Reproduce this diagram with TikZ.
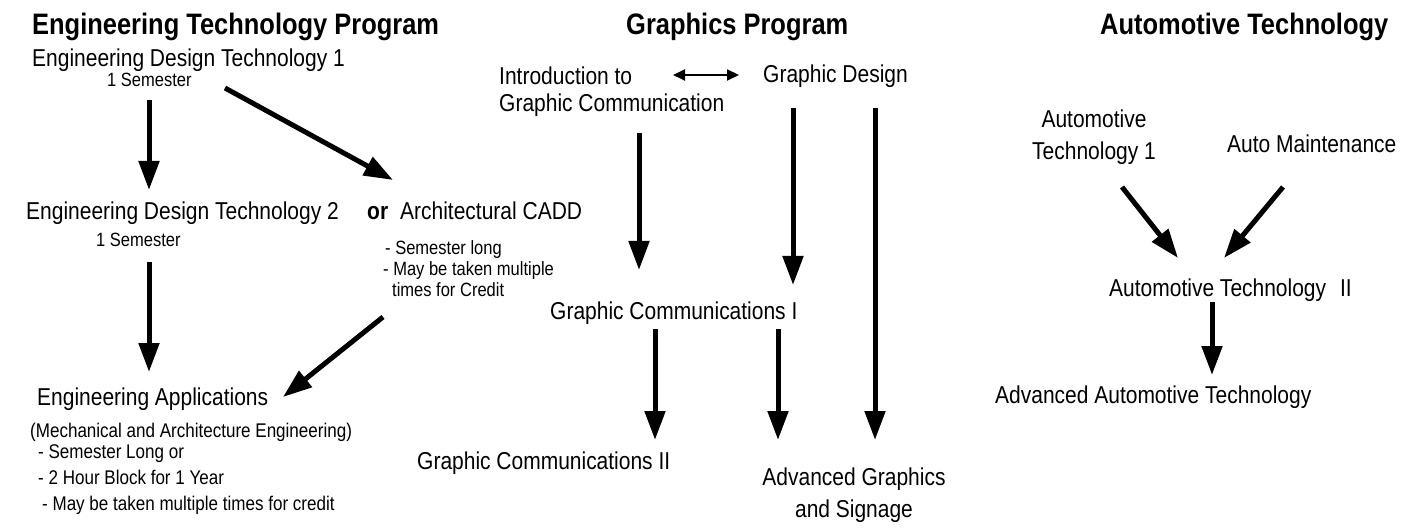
\documentclass[tikz,border=0pt]{standalone}
\usepackage{fontspec}
\setmainfont{Liberation Sans}[FakeStretch=0.86]
\usetikzlibrary{arrows.meta}

\begin{document}
\begin{tikzpicture}[x=1pt, y=-1pt,
  every node/.style={inner sep=0pt, anchor=base west},
  progtitle/.style={font=\fontsize{29.6}{34}\selectfont\bfseries},
  course/.style={font=\fontsize{24.4}{32}\selectfont},
  remark/.style={font=\fontsize{19.2}{21.5}\selectfont, align=left},
  bigarrow/.style={-{Triangle[length=29pt,width=20pt]}, line width=5pt},
  twoway/.style={{Triangle[length=12pt,width=11pt]}-{Triangle[length=12pt,width=11pt]}, line width=2pt}]
\useasboundingbox (0,0) rectangle (1413,529);

\node[progtitle] (hET) at (32,35) {Engineering Technology Program};
\node[progtitle] (hGP) at (626,35) {Graphics Program};
\node[progtitle] (hAT) at (1100,35) {Automotive Technology};

\node[course] (edt1) at (32,67) {Engineering Design Technology 1};
\node[remark] (sem1) at (107,87) {1 Semester};
\node[course] (edt2) at (26,220) {Engineering Design Technology 2};
\node[remark] (sem2) at (96,247) {1 Semester};
\node[course] (cadd) at (367,220) {\textbf{or}\hspace{12pt}Architectural CADD};
\node[remark] (caddnote) at (385,297) {- Semester long\\\hspace*{-2pt}- May be taken multiple\\\hspace*{7pt}times for Credit};
\node[course] (eapp) at (37,405) {Engineering Applications};
\node[remark, font=\fontsize{19.8}{26}\selectfont] (eappnote) at (30,510)
  {(Mechanical and Architecture Engineering)\\[-5pt]\hspace*{8pt}- Semester Long or\\\hspace*{8pt}- 2 Hour Block for 1 Year\\\hspace*{12pt}- May be taken multiple times for credit};

\node[course, align=left, font=\fontsize{24.4}{27}\selectfont] (intro) at (499,112) {Introduction to\\Graphic Communication};
\node[course] (gd) at (763,83) {Graphic Design};
\node[course] (gc1) at (550,319) {Graphic Communications I};
\node[course] (gc2) at (417,469) {Graphic Communications II};
\node[course, align=center, anchor=base] (adv) at (854,517) {Advanced Graphics\\and Signage};

\node[course, align=center, anchor=base] (at1) at (1094,160) {Automotive\\Technology 1};
\node[course] (am) at (1227,153) {Auto Maintenance};
\node[course] (at2) at (1109,297) {Automotive Technology\hspace{14pt}II};
\node[course] (aat) at (995,403) {Advanced Automotive Technology};

\draw[bigarrow] ([shift={(42,13)}]sem1.base west) -- ([shift={(123,-30)}]edt2.base west);
\draw[bigarrow] ([shift={(193,21)}]edt1.base west) -- ([shift={(26,-40)}]cadd.base west);
\draw[bigarrow] ([shift={(53,15)}]sem2.base west) -- ([shift={(112,-33)}]eapp.base west);
\draw[bigarrow] ([shift={(-2,20)}]caddnote.base west) -- ([shift={(246,-8)}]eapp.base west);

\draw[twoway] ([shift={(174,-37)}]intro.base west) -- ([shift={(-24,-8)}]gd.base west);
\draw[bigarrow] ([shift={(140,21)}]intro.base west) -- ([shift={(89,-49)}]gc1.base west);
\draw[bigarrow] ([shift={(30,25)}]gd.base west) -- ([shift={(243,-34)}]gc1.base west);
\draw[bigarrow] ([shift={(112,25)}]gd.base west) -- ([shift={(21,-77)}]adv.base);
\draw[bigarrow] ([shift={(105,10)}]gc1.base west) -- ([shift={(238,-29)}]gc2.base west);
\draw[bigarrow] ([shift={(228,10)}]gc1.base west) -- ([shift={(-76,-77)}]adv.base);

\draw[bigarrow] ([shift={(28,27)}]at1.base) -- ([shift={(69,-39)}]at2.base west);
\draw[bigarrow] ([shift={(56,34)}]am.base west) -- ([shift={(115,-39)}]at2.base west);
\draw[bigarrow] ([shift={(103,5)}]at2.base west) -- ([shift={(217,-28)}]aat.base west);
\end{tikzpicture}
\end{document}
